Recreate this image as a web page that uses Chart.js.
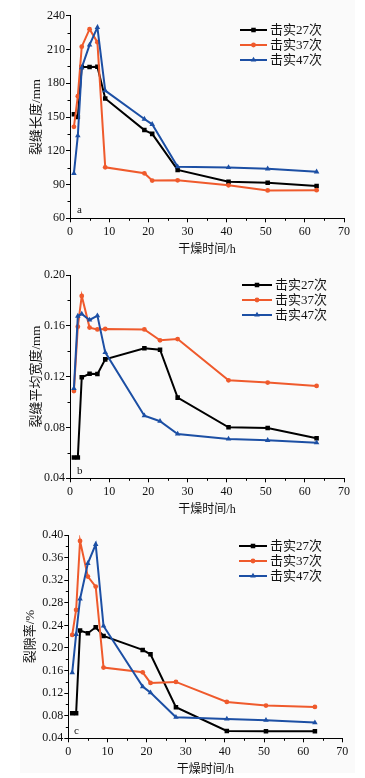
<!DOCTYPE html>
<html>
<head>
<meta charset="utf-8">
<script src="https://cdn.jsdelivr.net/npm/chart.js@4/dist/chart.umd.min.js"></script>
<style>
  html, body { margin: 0; padding: 0; background: #fff; }
  body { width: 365px; height: 778px; position: relative; overflow: hidden; }
  #panel { position: absolute; left: 20px; top: 0; width: 335px; height: 773px; background: #fafafa; }
  canvas { position: absolute; left: 0; }
</style>
</head>
<body>
<div id="panel"></div>
<canvas id="chartA" width="365" height="260" style="top:0"></canvas>
<canvas id="chartB" width="365" height="260" style="top:260px"></canvas>
<canvas id="chartC" width="365" height="258" style="top:520px"></canvas>
<script>
// drying time (h)
const timesA = [1, 2, 3, 5, 7, 9, 19, 21, 27.5, 40.5, 50.5, 63];
const timesB = [1, 2, 3, 5, 7, 9, 19, 23, 27.5, 40.5, 50.5, 63];
const timesC = [1, 2, 3, 5, 7, 9, 19, 21, 27.5, 40.5, 50.5, 63];

const seriesNames = ["击实27次", "击实37次", "击实47次"];

// a: crack length (mm)
const length27 = [152.5, 150, 194.5, 194.5, 194.7, 166.5, 138.4, 135, 103, 92.5, 91.6, 88.6];
const length37 = [141.3, 168.5, 212.5, 228, 216.5, 105.3, 100, 93.5, 93.7, 89.3, 84.8, 85];
const length47 = [100, 133.4, 193.8, 214, 229.6, 173.4, 148.2, 143.5, 105.8, 105.2, 104, 101.3];

// b: mean crack width (mm)
const width27 = [0.0563, 0.0563, 0.1195, 0.1223, 0.122, 0.1336, 0.1423, 0.1412, 0.1035, 0.0801, 0.0796, 0.0715];
const width37 = [0.1087, 0.1593, 0.1835, 0.1586, 0.1572, 0.1575, 0.1572, 0.1486, 0.1496, 0.1171, 0.1153, 0.1127];
const width47 = [0.1108, 0.1677, 0.1693, 0.1646, 0.168, 0.1391, 0.0893, 0.0849, 0.0749, 0.071, 0.0699, 0.068];

// c: crack ratio (%)
const ratio27 = [0.0844, 0.0844, 0.2307, 0.2261, 0.2366, 0.2212, 0.1965, 0.1888, 0.095, 0.0531, 0.0525, 0.0525];
const ratio37 = [0.223, 0.2673, 0.3894, 0.3263, 0.3086, 0.1652, 0.1569, 0.1381, 0.1398, 0.1044, 0.0979, 0.0956];
const ratio47 = [0.1563, 0.2242, 0.2867, 0.3499, 0.3835, 0.2389, 0.1315, 0.1209, 0.0773, 0.0743, 0.072, 0.0678];

const xTicks = [0, 10, 20, 30, 40, 50, 60, 70];
const yTicksA = [60, 90, 120, 150, 180, 210, 240];
const yTicksB = [0.04, 0.08, 0.12, 0.16, 0.20];
const yTicksC = [0.04, 0.08, 0.12, 0.16, 0.20, 0.24, 0.28, 0.32, 0.36, 0.40];

const colors = ["#000000", "#ef5a2c", "#1c4fa4"];
const shapes = ["rect", "circle", "triangle"];
const radii = [3.2, 2.4, 3.2];
const serif = "'Liberation Serif', 'Noto Sans CJK SC', serif";

function drawMarker(ctx, shape, x, y, r) {
  ctx.beginPath();
  if (shape === "rect") {
    const s = r * Math.SQRT1_2;
    ctx.rect(x - s, y - s, 2 * s, 2 * s);
  } else if (shape === "circle") {
    ctx.arc(x, y, r, 0, Math.PI * 2);
  } else {
    const w = r * Math.sqrt(3) / 2;
    ctx.moveTo(x, y - r);
    ctx.lineTo(x + w, y + r / 2);
    ctx.lineTo(x - w, y + r / 2);
    ctx.closePath();
  }
  ctx.fill();
}

// legend inside the plot + panel letter + minor ticks
const extras = {
  id: "extras",
  afterDraw(chart, args, opts) {
    const ctx = chart.ctx;
    ctx.save();
    // minor ticks
    ctx.strokeStyle = "#000";
    ctx.lineWidth = 1;
    ["x", "y"].forEach(id => {
      const sc = chart.scales[id];
      const t = sc.ticks.map(k => k.value);
      for (let i = 0; i < t.length - 1; i++) {
        const v = (t[i] + t[i + 1]) / 2;
        const p = Math.round(sc.getPixelForValue(v)) + 0.5;
        ctx.beginPath();
        if (id === "x") {
          ctx.moveTo(p, chart.chartArea.bottom);
          ctx.lineTo(p, chart.chartArea.bottom + 2.5);
        } else {
          ctx.moveTo(chart.chartArea.left, p);
          ctx.lineTo(chart.chartArea.left - 2.5, p);
        }
        ctx.stroke();
      }
    });
    // legend
    chart.data.datasets.forEach((ds, i) => {
      const y = opts.y + i * opts.gap;
      ctx.strokeStyle = ds.borderColor;
      ctx.fillStyle = ds.borderColor;
      ctx.lineWidth = 2;
      ctx.beginPath();
      ctx.moveTo(opts.x, y);
      ctx.lineTo(opts.x + opts.len, y);
      ctx.stroke();
      drawMarker(ctx, ds.pointStyle, opts.x + opts.len / 2, y, ds.pointRadius);
      ctx.fillStyle = "#111";
      ctx.font = "13px " + serif;
      ctx.textBaseline = "middle";
      ctx.textAlign = "left";
      ctx.fillText(ds.label, opts.x + opts.len + 3, y + 1);
    });
    // panel letter
    ctx.fillStyle = "#111";
    ctx.font = "11px " + serif;
    ctx.textAlign = "left";
    ctx.textBaseline = "middle";
    ctx.fillText(opts.letter, opts.lx, opts.ly);
    ctx.restore();
  }
};

function makeChart(id, times, values, yTicks, yTitle, cfg) {
  const datasets = values.map((vals, i) => ({
    label: seriesNames[i],
    data: vals.map((v, k) => ({ x: times[k], y: v })),
    borderColor: colors[i],
    backgroundColor: colors[i],
    borderWidth: 2,
    pointStyle: shapes[i],
    pointRadius: radii[i],
    pointBorderWidth: 0,
    tension: 0,
    order: 3 - i
  }));

  return new Chart(document.getElementById(id), {
    type: "line",
    data: { datasets },
    plugins: [extras],
    options: {
      responsive: false,
      animation: false,
      layout: { padding: { top: cfg.top, right: cfg.right, left: 0, bottom: 0 } },
      plugins: {
        legend: { display: false },
        tooltip: { enabled: false },
        extras: cfg.legend
      },
      scales: {
        x: {
          type: "linear",
          min: 0,
          max: 70,
          afterBuildTicks: s => { s.ticks = xTicks.map(v => ({ value: v })); },
          afterFit: s => { s.height = cfg.xHeight; },
          border: { color: "#000", width: 1 },
          grid: { drawOnChartArea: false, tickLength: 4, color: "#000" },
          ticks: { color: "#111", padding: 2, font: { family: serif, size: 12 }, maxRotation: 0 },
          title: {
            display: true,
            text: "干燥时间/h",
            color: "#111",
            font: { family: serif, size: 12 },
            padding: { top: 0, bottom: cfg.xTitlePad }
          }
        },
        y: {
          min: yTicks[0],
          max: yTicks[yTicks.length - 1],
          afterBuildTicks: s => { s.ticks = yTicks.map(v => ({ value: v })); },
          afterFit: s => { s.width = cfg.yWidth; },
          border: { color: "#000", width: 1 },
          grid: { drawOnChartArea: false, tickLength: 4, color: "#000" },
          ticks: {
            color: "#111",
            padding: 1,
            font: { family: serif, size: 12 },
            callback: v => cfg.fmt(v)
          },
          title: {
            display: true,
            text: yTitle,
            color: "#111",
            font: { family: serif, size: 13 },
            padding: { top: cfg.yTitlePad, bottom: 0 }
          }
        }
      }
    }
  });
}

makeChart("chartA", timesA, [length27, length37, length47], yTicksA, "裂缝长度/mm", {
  top: 15.7, right: 21, yWidth: 70, xHeight: 41.7, xTitlePad: 3, yTitlePad: 29,
  fmt: v => String(v),
  legend: { x: 240, y: 30, gap: 15, len: 27, letter: "a", lx: 77, ly: 210 }
});

makeChart("chartB", timesB, [width27, width37, width47], yTicksB, "裂缝平均宽度/mm", {
  top: 15, right: 21, yWidth: 70, xHeight: 41.7, xTitlePad: 3, yTitlePad: 29,
  fmt: v => v.toFixed(2),
  legend: { x: 242, y: 25, gap: 15, len: 30, letter: "b", lx: 77, ly: 211 }
});

makeChart("chartC", timesC, [ratio27, ratio37, ratio47], yTicksC, "裂隙率/%", {
  top: 15, right: 22.7, yWidth: 68.3, xHeight: 39.7, xTitlePad: 1, yTitlePad: 23,
  fmt: v => v.toFixed(2),
  legend: { x: 239, y: 26, gap: 15, len: 28, letter: "c", lx: 74, ly: 211 }
});
</script>
</body>
</html>
